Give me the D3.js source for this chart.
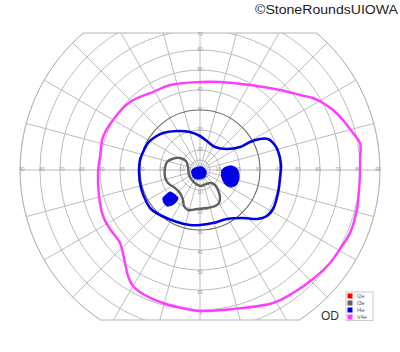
<!DOCTYPE html>
<html>
<head>
<meta charset="utf-8">
<script src="https://cdn.jsdelivr.net/npm/d3@7"></script>
<style>
  body { margin: 0; background: #fff; }
  svg { display: block; font-family: "Liberation Sans", Arial, sans-serif; }
</style>
</head>
<body>
<svg id="field"></svg>
<script>
// Isopters, in degrees [horizontal, vertical] from fixation
const isoV4e = [
    [80, -1.5], [80, 5], [80, 13.5], [76.5, 18.5], [71.5, 25], [66.5, 30], [61.5, 33.5],
    [56.5, 36], [50, 37.5], [40, 40], [25, 42.5], [10, 44], [0, 44], [-15, 42.5],
    [-23.5, 39], [-35, 34], [-43.5, 25], [-48.5, 16.5], [-50, 6.5], [-51, -1],
    [-50.5, -13], [-48.5, -23], [-45, -29.5], [-40, -36.5], [-37.5, -46.5], [-36, -53],
    [-33.5, -58], [-28.5, -62], [-18.5, -66.5], [-6.5, -69.5], [0, -70.5], [16.5, -69.5],
    [36.5, -66.5], [46.5, -61.5], [56.5, -54.5], [65, -46.5], [70, -39.5], [75, -31.5],
    [78.5, -19.5], [79.5, -10]
];

const isoI4e = [
    [-30.5, -1], [-30, 5], [-28, 10], [-26, 13.5], [-22.5, 16.5], [-18.5, 18.5],
    [-11.5, 19.5], [-5, 19], [0, 17], [4, 14], [7.5, 11.5], [13.5, 10.5], [20, 11.5],
    [25, 14], [30, 15.5], [34, 15.5], [37, 13], [39, 9.5], [40.5, 2.5], [40, -4],
    [39, -11.5], [36.5, -19.5], [33.5, -23], [28.5, -24.5], [21.5, -24], [13.5, -24.5],
    [6.5, -26.5], [0, -27.5], [-5, -27.5], [-11.5, -26], [-19, -23], [-24.5, -19.5],
    [-27, -15.5], [-29.5, -9]
];

// I4e scotomas (filled)
const scotomaI4e = [
    [[-4, 0], [-2.5, 1], [1, 1.5], [3, -0.5], [2.5, -3.5], [-0.5, -4.5], [-3, -4], [-4, -2]],
    [[11, 0], [13, 1.5], [16, 2], [18.5, 0.5], [19.5, -4], [18, -7.5], [15.5, -8.5], [13, -7.5], [11, -4]],
    [[-18.5, -14], [-16.5, -12], [-15, -11], [-13, -12], [-11, -14], [-12, -16], [-14, -17.5], [-16.5, -18], [-18, -16.5]]
];

const isoI3e = [
    [-16.5, 4], [-14, 5.5], [-10, 6], [-7, 4.5], [-6, 1.5], [-5.5, -2.5], [-4, -5],
    [-2, -7], [0.5, -8], [3, -7], [5.5, -6.5], [7.5, -7.5], [9, -10], [10, -13.5],
    [9.5, -16.5], [7.5, -18], [3.5, -19], [-1.5, -19.5], [-6, -20], [-8, -18],
    [-8.5, -15], [-10, -11.5], [-12.5, -9], [-16, -6.5], [-17.5, -3.5], [-17.5, 1]
];

// Grid
const rings = [5, 10, 20, 30, 40, 50, 60, 70, 80, 90];
const meridians = d3.range(0, 360, 15);
const hTicks = [10, 20, 30, 40, 50, 60, 70, 80, 90];
const vTicksUp = [10, 20, 30, 40, 50, 60, 70];
const vTicksDown = [10, 20, 30, 40, 50, 60, 70];
const limitTop = 68.5;
const limitBottom = -75;

const legendNames = ["I2e", "I3e", "I4e", "V4e"];
const legendColors = ["#ff0000", "#606060", "#0000e6", "#ff3cff"];

const width = 400;
const height = 352;
const cx = 200, cy = 170, pxPerDeg = 2;

const svg = d3.select("#field")
    .attr("width", width)
    .attr("height", height);

const x = d3.scaleLinear().domain([-90, 90]).range([cx - 90 * pxPerDeg, cx + 90 * pxPerDeg]);
const y = d3.scaleLinear().domain([-90, 90]).range([cy + 90 * pxPerDeg, cy - 90 * pxPerDeg]);
const r = d => x(d) - x(0);

// Outline of the chart: 90 deg circle cut at top and bottom
const R = r(90);
const topHalf = Math.sqrt(90 * 90 - limitTop * limitTop);
const botHalf = Math.sqrt(90 * 90 - limitBottom * limitBottom);
const outline = `M${x(-topHalf)},${y(limitTop)} L${x(topHalf)},${y(limitTop)}`
    + ` A${R},${R} 0 0 1 ${x(botHalf)},${y(limitBottom)}`
    + ` L${x(-botHalf)},${y(limitBottom)}`
    + ` A${R},${R} 0 0 1 ${x(-topHalf)},${y(limitTop)} Z`;

svg.append("clipPath").attr("id", "chartClip")
    .append("path").attr("d", outline);

const grid = svg.append("g").attr("clip-path", "url(#chartClip)");

grid.selectAll(".meridian")
    .data(meridians)
    .enter()
    .append("line")
    .attr("x1", x(0))
    .attr("y1", y(0))
    .attr("x2", d => x(95 * Math.cos(d * Math.PI / 180)))
    .attr("y2", d => y(95 * Math.sin(d * Math.PI / 180)))
    .attr("stroke", "#b4b4b4")
    .attr("stroke-width", 0.9);

grid.selectAll(".ring")
    .data(rings)
    .enter()
    .append("circle")
    .attr("cx", x(0))
    .attr("cy", y(0))
    .attr("r", d => r(d))
    .attr("fill", "none")
    .attr("stroke", d => d === 30 ? "#6a6a6a" : "#b4b4b4")
    .attr("stroke-width", d => d === 30 ? 1.1 : 0.9);

svg.append("path")
    .attr("d", outline)
    .attr("fill", "none")
    .attr("stroke", "#b4b4b4")
    .attr("stroke-width", 1);

// Tick labels
const tickLabel = (tx, ty, t) => svg.append("text")
    .attr("x", tx)
    .attr("y", ty)
    .attr("text-anchor", "middle")
    .attr("dominant-baseline", "middle")
    .attr("font-size", 5)
    .attr("fill", "#9a9a9a")
    .text(t);

hTicks.forEach(d => {
    tickLabel(x(-d) + 2, y(0), d);
    tickLabel(x(d) - 2, y(0), d);
});
vTicksUp.forEach(d => tickLabel(x(0), Math.max(y(d), y(limitTop - 1)), d));
vTicksDown.forEach(d => tickLabel(x(0), y(-d) + 3, d));

// Isopters
const line = d3.line()
    .x(d => x(d[0]))
    .y(d => y(d[1]))
    .curve(d3.curveCatmullRomClosed.alpha(0.5));

svg.append("path")
    .attr("d", line(isoV4e))
    .attr("fill", "none")
    .attr("stroke", legendColors[3])
    .attr("stroke-width", 2.4);

svg.append("path")
    .attr("d", line(isoI4e))
    .attr("fill", "none")
    .attr("stroke", legendColors[2])
    .attr("stroke-width", 2.6);

svg.selectAll(".scotoma")
    .data(scotomaI4e)
    .enter()
    .append("path")
    .attr("d", d => line(d))
    .attr("fill", legendColors[2])
    .attr("stroke", legendColors[2])
    .attr("stroke-width", 1);

svg.append("path")
    .attr("d", line(isoI3e))
    .attr("fill", "none")
    .attr("stroke", legendColors[1])
    .attr("stroke-width", 2.4);

// Legend
const legend = svg.append("g").attr("transform", "translate(346, 292)");

legend.append("rect")
    .attr("width", 27)
    .attr("height", 28.5)
    .attr("fill", "#fff")
    .attr("stroke", "#bdbdbd")
    .attr("stroke-width", 0.8);

legendNames.forEach((name, i) => {
    legend.append("rect")
        .attr("x", 1.5)
        .attr("y", 1.5 + i * 7)
        .attr("width", 5)
        .attr("height", 5)
        .attr("fill", legendColors[i]);
    legend.append("text")
        .attr("x", 11)
        .attr("y", 6 + i * 7)
        .attr("font-size", 5.5)
        .attr("fill", "#555")
        .text(name);
});

svg.append("text")
    .attr("x", 321)
    .attr("y", 320)
    .attr("font-size", 12)
    .attr("fill", "#333")
    .text("OD");

svg.append("text")
    .attr("x", 398)
    .attr("y", 13.5)
    .attr("text-anchor", "end")
    .attr("font-size", 12.5)
    .attr("fill", "#222")
    .attr("textLength", 143)
    .attr("lengthAdjust", "spacingAndGlyphs")
    .text("©StoneRoundsUIOWA");
</script>
</body>
</html>
